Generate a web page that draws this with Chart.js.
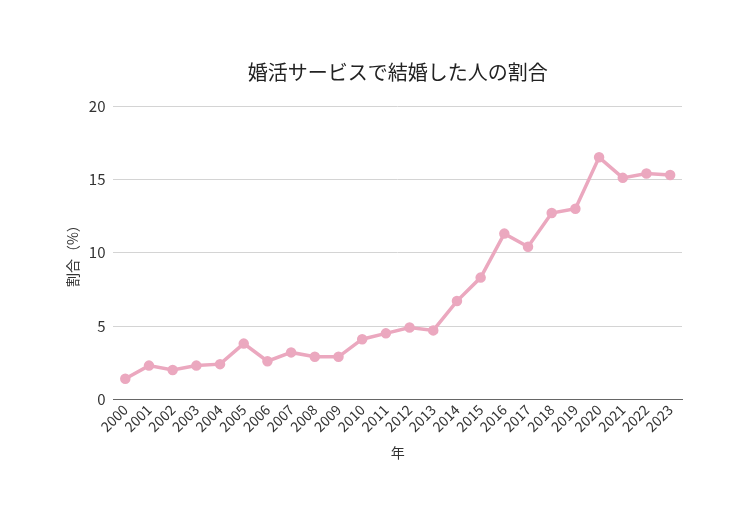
<!DOCTYPE html>
<html>
<head>
<meta charset="utf-8">
<script src="https://cdn.jsdelivr.net/npm/chart.js@4"></script>
<style>
  html, body { margin:0; padding:0; background:#fff; }
  #wrap { width:744px; height:527px; }
</style>
</head>
<body>
<div id="wrap"><canvas id="lineChart" width="744" height="527"></canvas></div>
<script>
// ======================================
// DATA
// ======================================

const years = [
    "2000","2001","2002","2003","2004","2005","2006","2007",
    "2008","2009","2010","2011","2012","2013","2014","2015",
    "2016","2017","2018","2019","2020","2021","2022","2023"
];

const shares = [
    1.4, 2.3, 2.0, 2.3, 2.4, 3.8, 2.6, 3.2,
    2.9, 2.9, 4.1, 4.5, 4.9, 4.7, 6.7, 8.3,
    11.3, 10.4, 12.7, 13.0, 16.5, 15.1, 15.4, 15.3
];

const yTicks = [0, 5, 10, 15, 20];

const chartTitle = "婚活サービスで結婚した人の割合";
const xTitle = "年";
const yTitle = "割合（%）";

// ======================================
// CHART
// ======================================

Chart.defaults.font.family = "'Noto Sans CJK JP', 'Noto Sans', sans-serif";
Chart.defaults.color = "#333";

new Chart(document.getElementById("lineChart"), {

    type: "line",

    data: {
        labels: years,
        datasets: [{
            label: yTitle,
            data: shares,
            borderColor: "#eba8bf",
            backgroundColor: "#eba8bf",
            borderWidth: 3.5,
            pointRadius: 3.5,
            pointBackgroundColor: "#eba8bf",
            pointBorderColor: "#eba8bf",
            tension: 0
        }]
    },

    options: {
        responsive: false,
        animation: false,
        layout: {
            padding: { left: 60, right: 62, top: 60, bottom: 62 }
        },
        plugins: {
            legend: { display: false },
            tooltip: { enabled: false },
            title: {
                display: true,
                text: chartTitle,
                fullSize: false,
                font: { size: 20, weight: "normal" },
                color: "#222",
                padding: { top: 0, bottom: 22 }
            }
        },
        scales: {
            x: {
                offset: true,
                grid: { display: false, drawTicks: false },
                border: { color: "#666", width: 1 },
                ticks: {
                    maxRotation: 45,
                    minRotation: 45,
                    autoSkip: false,
                    font: { size: 14 },
                    color: "#333",
                    padding: 2
                },
                title: {
                    display: true,
                    text: xTitle,
                    font: { size: 14 },
                    color: "#333",
                    padding: { top: 7 }
                }
            },
            y: {
                min: 0,
                max: 20,
                afterBuildTicks: function(axis){
                    axis.ticks = yTicks.map(function(v){ return { value: v }; });
                },
                grid: { color: "#d4d4d4", drawTicks: false },
                border: { display: false },
                ticks: {
                    font: { size: 15 },
                    color: "#333",
                    padding: 8
                },
                title: {
                    display: true,
                    text: yTitle,
                    font: { size: 14 },
                    color: "#333",
                    padding: { bottom: 0 }
                }
            }
        }
    }

});
</script>
</body>
</html>
